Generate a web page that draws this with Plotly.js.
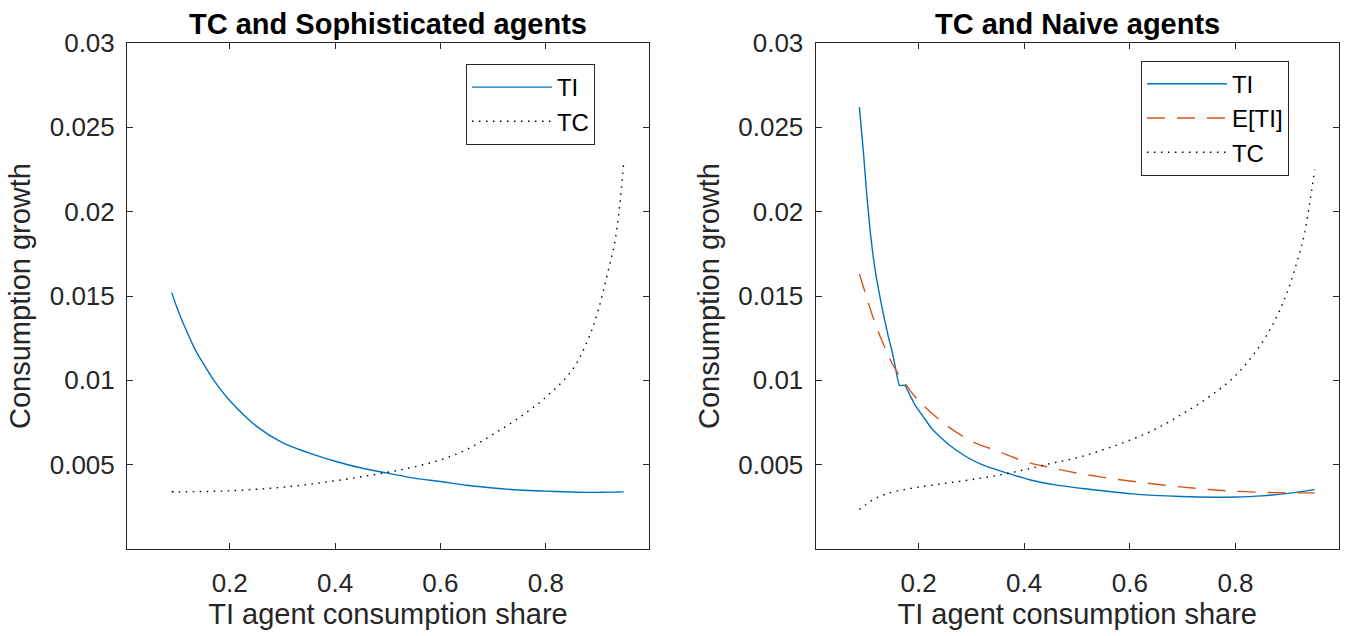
<!DOCTYPE html>
<html>
<head>
<meta charset="utf-8">
<script src="https://cdn.plot.ly/plotly-3.0.1.min.js"></script>
<style>
  html, body { margin: 0; padding: 0; background: #ffffff; }
  #chart { width: 1345px; height: 636px; }
</style>
</head>
<body>
<div id="chart"></div>
<script>
// ---------- Data ----------
// Left panel: TC and Sophisticated agents
var sophShare = [0.09, 0.10, 0.11, 0.12, 0.13, 0.14, 0.15, 0.17, 0.20, 0.25, 0.30, 0.35, 0.40, 0.45,
                 0.50, 0.55, 0.60, 0.65, 0.70, 0.75, 0.80, 0.85, 0.88, 0.90, 0.92, 0.93, 0.94, 0.948];
var sophTI = [0.0152, 0.0143, 0.0135, 0.0128, 0.0121, 0.0115, 0.0110, 0.0100, 0.0088, 0.0073, 0.0063, 0.0057, 0.0052, 0.0048,
              0.0045, 0.0042, 0.0040, 0.00378, 0.00362, 0.0035, 0.00343, 0.00338, 0.00336, 0.00336, 0.00337, 0.00337, 0.00338, 0.0034];
var sophTC = [0.00339, 0.00339, 0.00339, 0.0034, 0.0034, 0.00341, 0.00341, 0.00342, 0.00345, 0.00354, 0.00366, 0.00383, 0.00404, 0.00428,
              0.00455, 0.00487, 0.00528, 0.0059, 0.0068, 0.0078, 0.0090, 0.0106, 0.0124, 0.0142, 0.0167, 0.0180, 0.0203, 0.0229];

// Right panel: TC and Naive agents
var naiveTIShare = [0.088, 0.096, 0.102, 0.109, 0.118, 0.131, 0.142, 0.150, 0.156, 0.164, 0.174, 0.184, 0.194, 0.21,
                    0.226, 0.257, 0.289, 0.320, 0.368, 0.416, 0.459, 0.515, 0.603, 0.698, 0.761, 0.80, 0.85, 0.90, 0.95];
var naiveTI = [0.0262, 0.0234, 0.0210, 0.0187, 0.0165, 0.0143, 0.0127, 0.0117, 0.0108, 0.0097, 0.0097, 0.0091, 0.0085, 0.0078,
               0.0071, 0.0062, 0.0055, 0.0050, 0.0045, 0.00406, 0.0038, 0.00357, 0.00327, 0.00311, 0.00307, 0.00308, 0.00315, 0.0033, 0.00352];
var naiveShare = [0.088, 0.10, 0.11, 0.12, 0.13, 0.14, 0.15, 0.17, 0.20, 0.25, 0.30, 0.35, 0.40, 0.45,
                  0.50, 0.55, 0.60, 0.65, 0.70, 0.75, 0.80, 0.85, 0.88, 0.90, 0.92, 0.93, 0.94, 0.95];
var naiveETI = [0.0163, 0.0151, 0.0141, 0.0132, 0.0124, 0.0117, 0.0110, 0.0100, 0.0088, 0.0074, 0.0064, 0.0058, 0.0052, 0.00483,
                0.0045, 0.00425, 0.00403, 0.00384, 0.00367, 0.00353, 0.00342, 0.00336, 0.00334, 0.00333, 0.00333, 0.00333, 0.00333, 0.00333];
var naiveTC = [0.00234, 0.00262, 0.00285, 0.00302, 0.00316, 0.00328, 0.00337, 0.0035, 0.00367, 0.00389, 0.00411, 0.00437, 0.00469, 0.00507,
               0.00541, 0.00589, 0.00645, 0.00713, 0.00802, 0.00902, 0.01028, 0.01222, 0.0139, 0.0154, 0.0174, 0.0186, 0.0204, 0.0225];

// Axis ticks and labels
var xTickVals = [0.2, 0.4, 0.6, 0.8];
var xTickText = ['0.2', '0.4', '0.6', '0.8'];
var yTickVals = [0.005, 0.01, 0.015, 0.02, 0.025, 0.03];
var yTickText = ['0.005', '0.01', '0.015', '0.02', '0.025', '0.03'];
var panelTitles = ['TC and Sophisticated agents', 'TC and Naive agents'];
var xLabel = 'TI agent consumption share';
var yLabel = 'Consumption growth';

// ---------- Styles ----------
var FONT = 'Liberation Sans, Arial, Helvetica, sans-serif';
var AXC = '#262626';
var BLUE = '#0072BD';
var ORANGE = '#D95319';
var LW = 1.4;
var DOT = '1.5px,5.5px';

var traces = [
  { x: sophShare, y: sophTI, name: 'TI', mode: 'lines', xaxis: 'x', yaxis: 'y', legend: 'legend',
    line: { color: BLUE, width: LW, shape: 'spline', smoothing: 1 } },
  { x: sophShare, y: sophTC, name: 'TC', mode: 'lines', xaxis: 'x', yaxis: 'y', legend: 'legend',
    line: { color: '#000000', width: LW, dash: DOT, shape: 'spline', smoothing: 1 } },
  { x: naiveTIShare, y: naiveTI, name: 'TI', mode: 'lines', xaxis: 'x2', yaxis: 'y2', legend: 'legend2',
    line: { color: BLUE, width: LW, shape: 'spline', smoothing: 0.5 } },
  { x: naiveShare, y: naiveETI, name: 'E[TI]', mode: 'lines', xaxis: 'x2', yaxis: 'y2', legend: 'legend2',
    line: { color: ORANGE, width: LW, dash: '18px,12px', shape: 'spline', smoothing: 1 } },
  { x: naiveShare, y: naiveTC, name: 'TC', mode: 'lines', xaxis: 'x2', yaxis: 'y2', legend: 'legend2',
    line: { color: '#000000', width: LW, dash: DOT, shape: 'spline', smoothing: 1 } }
];

function xAxis(domain, anchor) {
  return {
    domain: domain, anchor: anchor, range: [0.005, 0.996],
    tickmode: 'array', tickvals: xTickVals, ticktext: xTickText,
    ticks: 'inside', ticklen: 6, tickwidth: 1, tickcolor: AXC,
    showline: true, linecolor: AXC, linewidth: 1, mirror: 'ticks',
    showgrid: false, zeroline: false,
    ticklabelstandoff: 11,
    tickfont: { family: FONT, size: 26, color: AXC },
    title: { text: xLabel, font: { family: FONT, size: 29, color: AXC }, standoff: 6 }
  };
}
function yAxis(anchor) {
  return {
    domain: [0, 1], anchor: anchor, range: [0, 0.03],
    tickmode: 'array', tickvals: yTickVals, ticktext: yTickText,
    ticks: 'inside', ticklen: 6, tickwidth: 1, tickcolor: AXC,
    showline: true, linecolor: AXC, linewidth: 1, mirror: 'ticks',
    showgrid: false, zeroline: false,
    ticklabelstandoff: 6,
    tickfont: { family: FONT, size: 26, color: AXC },
    title: { text: yLabel, font: { family: FONT, size: 29, color: AXC }, standoff: 10 }
  };
}

var legendStyle = {
  bgcolor: '#ffffff', bordercolor: AXC, borderwidth: 1,
  font: { family: FONT, size: 24, color: '#000000' },
  xanchor: 'right', yanchor: 'top', tracegroupgap: 0, itemwidth: 80
};

var layout = {
  width: 1345, height: 636,
  margin: { l: 127, r: 6, t: 43, b: 87, pad: 0 },
  paper_bgcolor: '#ffffff', plot_bgcolor: '#ffffff',
  font: { family: FONT, color: AXC },
  showlegend: true,
  xaxis: xAxis([0, 0.4307], 'y'),
  yaxis: yAxis('x'),
  xaxis2: xAxis([0.5681, 1], 'y2'),
  yaxis2: yAxis('x2'),
  legend: Object.assign({}, legendStyle, { x: 0.3861, y: 0.9585 }),
  legend2: Object.assign({}, legendStyle, { x: 0.9587, y: 0.965 }),
  annotations: [
    { text: '<b>' + panelTitles[0] + '</b>', xref: 'paper', yref: 'paper', x: 0.2154, y: 1,
      xanchor: 'center', yanchor: 'bottom', yshift: 1, showarrow: false,
      font: { family: FONT, size: 29, color: '#000000' } },
    { text: '<b>' + panelTitles[1] + '</b>', xref: 'paper', yref: 'paper', x: 0.7840, y: 1,
      xanchor: 'center', yanchor: 'bottom', yshift: 1, showarrow: false,
      font: { family: FONT, size: 29, color: '#000000' } }
  ]
};

Plotly.newPlot('chart', traces, layout, { displayModeBar: false, staticPlot: true });
</script>
</body>
</html>
